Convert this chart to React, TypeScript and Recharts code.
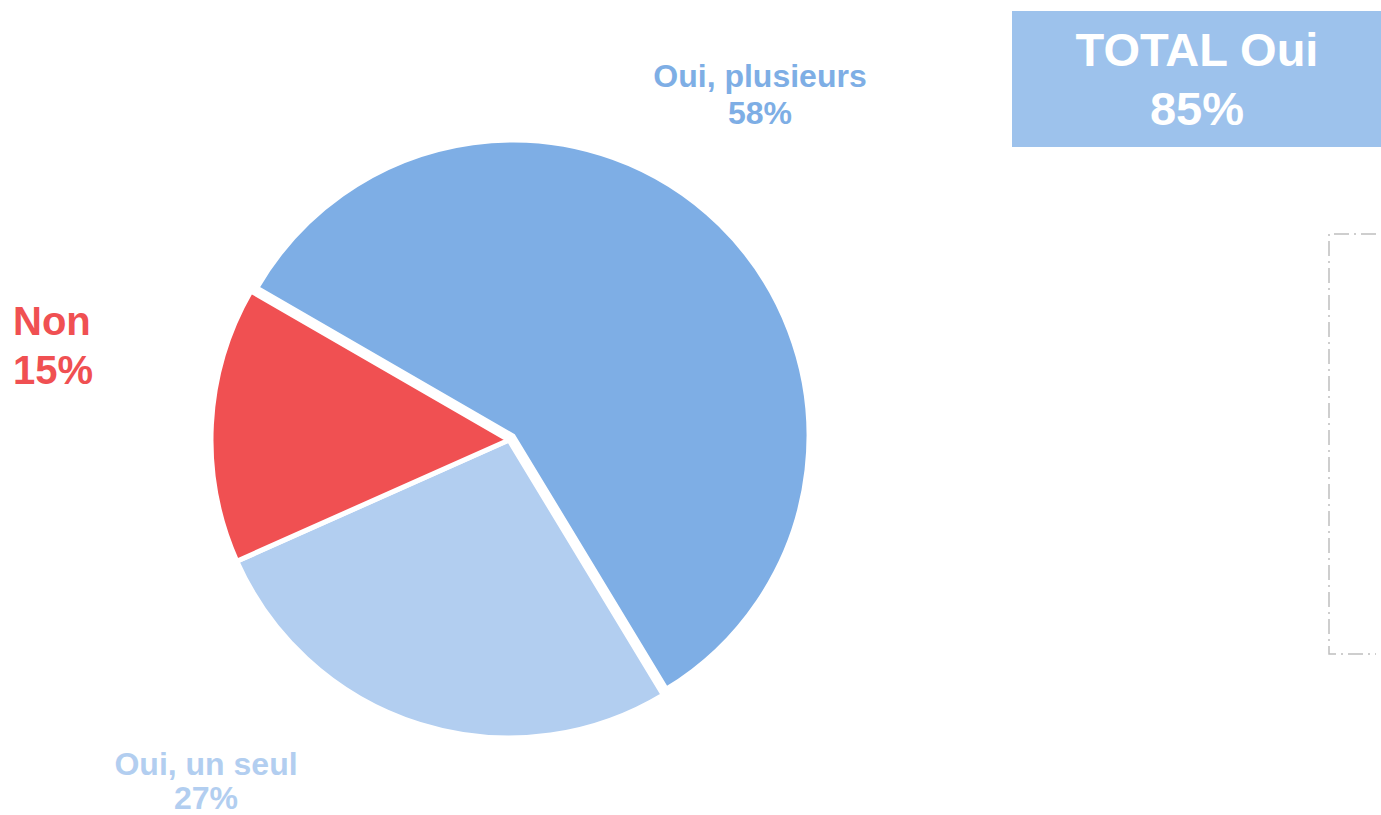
import React from "react";
import { PieChart, Pie, Cell } from "recharts";

const categories = ["Oui, plusieurs", "Oui, un seul", "Non"];
const values = [58, 27, 15];
const colors = ["#7EAEE5", "#B2CEF0", "#F05052"];
const totalLabel = "TOTAL Oui";

// where each label sits (picture pixels), kept apart from the data
const labelLayout = [
  { x: 760, y: 87, anchor: "middle", size: 32, gap: 37 },
  { x: 206, y: 775, anchor: "middle", size: 32, gap: 34 },
  { x: 13, y: 335, anchor: "start", size: 40, gap: 49 },
];

const data = categories.map((name, i) => ({ name, value: values[i] }));
const totalYes = values[0] + values[1];

const FONT = "'Liberation Sans', Arial, sans-serif";

const renderLabel = ({ index }: any) => {
  const l = labelLayout[index];
  return (
    <g key={index}>
      <text
        x={l.x}
        y={l.y}
        textAnchor={l.anchor}
        fill={colors[index]}
        fontFamily={FONT}
        fontWeight="bold"
        fontSize={l.size}
      >
        {categories[index]}
      </text>
      <text
        x={l.x}
        y={l.y + l.gap}
        textAnchor={l.anchor}
        fill={colors[index]}
        fontFamily={FONT}
        fontWeight="bold"
        fontSize={l.size}
      >
        {values[index]}%
      </text>
    </g>
  );
};

export default function App() {
  return (
    <div
      style={{
        position: "absolute",
        left: 0,
        top: 0,
        width: 1381,
        height: 815,
        background: "#fff",
        overflow: "hidden",
      }}
    >
      <PieChart width={1381} height={815} margin={{ top: 0, right: 0, bottom: 0, left: 0 }}>
        {/* base pie: the two small slices */}
        <Pie
          data={data}
          dataKey="value"
          nameKey="name"
          cx={509}
          cy={440}
          outerRadius={298}
          startAngle={150}
          endAngle={-210}
          stroke="#fff"
          strokeWidth={5}
          label={renderLabel}
          labelLine={false}
          isAnimationActive={false}
        >
          {data.map((d, i) => (
            <Cell
              key={d.name}
              fill={i === 0 ? "transparent" : colors[i]}
              stroke={i === 0 ? "none" : "#fff"}
            />
          ))}
        </Pie>
        {/* pulled-out slice: Oui, plusieurs */}
        <Pie
          data={data}
          dataKey="value"
          nameKey="name"
          cx={513}
          cy={436}
          outerRadius={296}
          startAngle={150}
          endAngle={-210}
          stroke="#fff"
          strokeWidth={5}
          isAnimationActive={false}
        >
          {data.map((d, i) => (
            <Cell
              key={d.name}
              fill={i === 0 ? colors[0] : "transparent"}
              stroke={i === 0 ? "#fff" : "none"}
            />
          ))}
        </Pie>
      </PieChart>

      <div
        style={{
          position: "absolute",
          left: 1012,
          top: 11,
          width: 380,
          height: 136,
          background: "#9DC2EC",
          color: "#fff",
          fontFamily: FONT,
          fontWeight: "bold",
          fontSize: 47,
          lineHeight: "59px",
          textAlign: "center",
          paddingTop: 9,
          boxSizing: "border-box",
        }}
      >
        <div style={{ width: 370 }}>{totalLabel}</div>
        <div style={{ width: 370 }}>{totalYes}%</div>
      </div>

      <svg
        width={61}
        height={440}
        style={{ position: "absolute", left: 1320, top: 225 }}
      >
        <path
          d="M 56 9 L 9 9 L 9 429 L 56 429"
          fill="none"
          stroke="#BFBFBF"
          strokeWidth={1.5}
          strokeDasharray="15 5 2 5"
        />
      </svg>
    </div>
  );
}
